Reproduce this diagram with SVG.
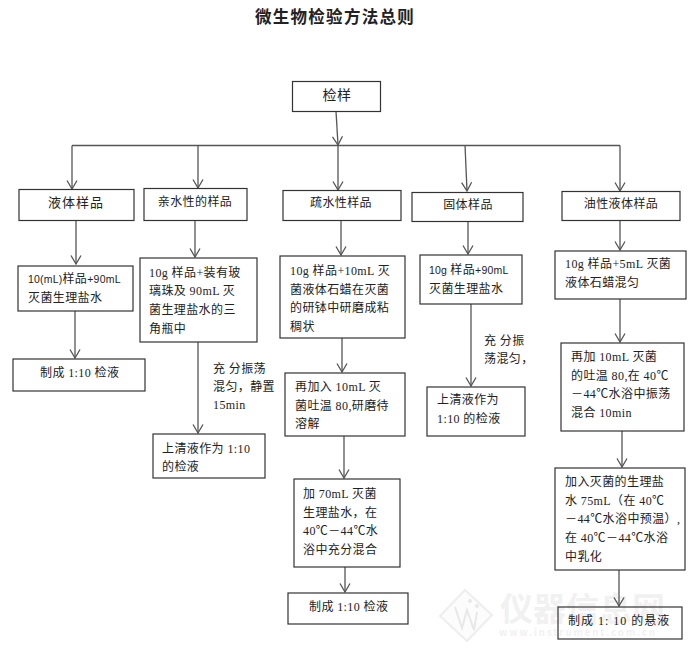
<svg xmlns="http://www.w3.org/2000/svg" width="690" height="656" viewBox="0 0 690 656">
<style>
.b{fill:#fff;stroke:#333;stroke-width:1.2}
.c{fill:none;stroke:#555;stroke-width:1.3;marker-end:url(#a)}
.h{fill:none;stroke:#555;stroke-width:1.3}
text{font-family:"Liberation Serif","Noto Sans CJK SC",serif;font-size:12px;fill:#222;letter-spacing:.4px}
.s{font-size:10.500px;font-family:"Liberation Sans","Noto Sans CJK SC",sans-serif;letter-spacing:.2px}
.m{text-anchor:middle}
.t{font-family:"Noto Sans CJK SC",sans-serif;font-size:16.500px;font-weight:700;letter-spacing:1.300px;text-anchor:middle;fill:#222}
.w{font-family:"Noto Sans CJK SC",sans-serif;fill:#f1f1f1;font-weight:700}
</style>
<defs>
<marker id="a" markerUnits="userSpaceOnUse" markerWidth="12" markerHeight="14" refX="10" refY="7" orient="auto" viewBox="0 0 12 14">
<path d="M1.500 2L10 7L1.500 12" fill="none" stroke="#555" stroke-width="1.3"/>
</marker>
</defs>
<rect width="690" height="656" fill="#fff"/>
<g id="watermark">
<path d="M465 590L492 615L467 641L440 616Z" fill="#fcfcfc" stroke="#eee" stroke-width="2"/>
<path d="M455 607L462 628L467 610L474 630L477 612" fill="none" stroke="#e8e8e8" stroke-width="2"/>
<circle cx="470" cy="601" r="2" fill="#e8e8e8"/><circle cx="477" cy="606" r="2" fill="#e8e8e8"/>
<text class="w" x="500" y="621" style="font-size:33px;letter-spacing:0">仪器信息网</text>
<text class="w" x="499" y="636" style="font-size:9.500px;letter-spacing:2px">www.instrument.com.cn</text>
</g>
<text class="t" x="335" y="23">微生物检验方法总则</text>
<g id="connectors">
<path class="h" d="M72 145.500H620"/>
<path class="c" d="M336 111L338 145"/>
<path class="c" d="M72 145.500V189"/>
<path class="c" d="M198 145.500V188"/>
<path class="c" d="M338 145.500V190"/>
<path class="c" d="M465 145L467 191"/>
<path class="c" d="M620 145.500V191"/>
<path class="c" d="M76 220V264"/>
<path class="c" d="M195 220V257"/>
<path class="c" d="M341 220V255"/>
<path class="c" d="M468 221V254"/>
<path class="c" d="M620 220V250"/>
<path class="c" d="M75 311V358"/>
<path class="c" d="M198 342V433"/>
<path class="c" d="M342 338V372"/>
<path class="c" d="M471 304V386"/>
<path class="c" d="M620 299V342"/>
<path class="c" d="M622 431V467"/>
<path class="c" d="M619 570V606"/>
<path class="c" d="M344 436V478"/>
<path class="c" d="M345 567V592"/>
</g>
<g id="n-start"><rect class="b" x="292.500" y="81.500" width="88" height="30"/><text class="m" x="337" y="100" style="font-size:14px">检样</text></g>
<g id="n-liquid"><rect class="b" x="19" y="189.500" width="115" height="31"/><text class="m" x="76" y="207" style="font-size:13px;letter-spacing:1px">液体样品</text></g>
<g id="n-hydrophilic"><rect class="b" x="144" y="188.500" width="103" height="32"/><text class="m" x="195" y="206">亲水性的样品</text></g>
<g id="n-hydrophobic"><rect class="b" x="283" y="190.500" width="118" height="30"/><text class="m" x="341" y="207">疏水性样品</text></g>
<g id="n-solid"><rect class="b" x="412" y="192.500" width="111" height="29"/><text class="m" x="468" y="209">固体样品</text></g>
<g id="n-oily"><rect class="b" x="562" y="191.500" width="118" height="29"/><text class="m" x="621" y="208">油性液体样品</text></g>
<g id="n-l1"><rect class="b" x="18" y="266" width="115" height="45"/><text x="28" y="283"><tspan class="s">10(mL)</tspan>样品<tspan class="s">+90mL</tspan></text><text x="28" y="302">灭菌生理盐水</text></g>
<g id="n-l2"><rect class="b" x="13" y="359" width="132" height="32"/><text x="40" y="377">制成 1:10 检液</text></g>
<g id="n-p1"><rect class="b" x="140" y="258" width="117" height="84"/><text x="149" y="277">10g 样品+装有玻</text><text x="149" y="295">璃珠及 90mL 灭</text><text x="149" y="314">菌生理盐水的三</text><text x="149" y="333">角瓶中</text></g>
<g id="n-p2"><rect class="b" x="153" y="434" width="112" height="44"/><text x="162" y="453">上清液作为 1:10</text><text x="162" y="471">的检液</text></g>
<g id="n-o1"><rect class="b" x="280" y="256" width="125" height="82"/><text x="290" y="275">10g 样品+10mL 灭</text><text x="290" y="294">菌液体石蜡在灭菌</text><text x="290" y="312">的研钵中研磨成粘</text><text x="290" y="331">稠状</text></g>
<g id="n-o2"><rect class="b" x="285" y="373" width="120" height="63"/><text x="295" y="391">再加入 10mL 灭</text><text x="295" y="410">菌吐温 80,研磨待</text><text x="295" y="428">溶解</text></g>
<g id="n-o3"><rect class="b" x="294" y="479" width="106" height="88"/><text x="303" y="498">加 70mL 灭菌</text><text x="303" y="517">生理盐水，在</text><text x="303" y="535">40℃－44℃水</text><text x="303" y="554">浴中充分混合</text></g>
<g id="n-o4"><rect class="b" x="288" y="593" width="120" height="31"/><text x="309" y="611">制成 1:10 检液</text></g>
<g id="n-s1"><rect class="b" x="420" y="255" width="102" height="49"/><text x="429" y="274"><tspan class="s">10g </tspan>样品<tspan class="s">+90mL</tspan></text><text x="429" y="293">灭菌生理盐水</text></g>
<g id="n-s2"><rect class="b" x="427" y="387" width="98" height="49"/><text x="437" y="404">上清液作为</text><text x="437" y="423">1:10 的检液</text></g>
<g id="n-y1"><rect class="b" x="555" y="251" width="131" height="48"/><text x="565" y="268">10g 样品+5mL 灭菌</text><text x="565" y="287">液体石蜡混匀</text></g>
<g id="n-y2"><rect class="b" x="561" y="343" width="123" height="88"/><text x="571" y="361">再加 10mL 灭菌</text><text x="571" y="380">的吐温 80,在 40℃</text><text x="571" y="398">－44℃水浴中振荡</text><text x="571" y="417">混合 10min</text></g>
<g id="n-y3"><rect class="b" x="555" y="468" width="130" height="102"/><text x="565" y="486">加入灭菌的生理盐</text><text x="565" y="505">水 75mL（在 40℃</text><text x="565" y="523">－44℃水浴中预温）,</text><text x="565" y="542">在 40℃－44℃水浴</text><text x="565" y="561">中乳化</text></g>
<g id="n-y4"><rect x="558" y="607" width="124" height="32" fill="none" stroke="#333" stroke-width="1.200"/><text x="568" y="625" style="letter-spacing:1px">制成 1: 10 的悬液</text></g>
<g id="labels"><text x="213" y="373">充 分振荡</text><text x="213" y="391">混匀，静置</text><text x="213" y="409">15min</text><text x="484" y="345">充 分振</text><text x="484" y="363">荡混匀，</text></g>
</svg>
